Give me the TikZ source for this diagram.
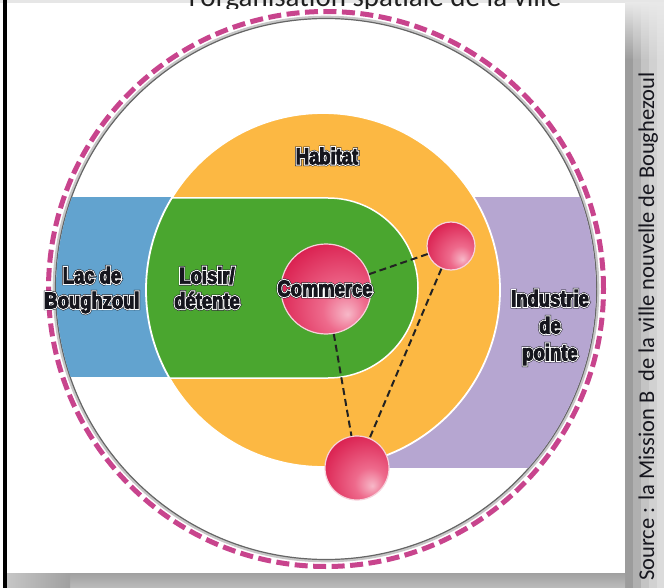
\documentclass[tikz,border=0pt]{standalone}
\usepackage{fontspec}
\newfontfamily\lblF[FakeStretch=0.8,FakeBold=4]{Liberation Sans Bold}
\newfontfamily\lblW[FakeStretch=0.8,FakeBold=12]{Liberation Sans Bold}
\newfontfamily\lblK[FakeStretch=0.8,FakeBold=16]{Liberation Sans Bold}
\newfontfamily\srcfont{Carlito}
\definecolor{txtdark}{HTML}{16161E}
\definecolor{lakeblue}{HTML}{62A3CF}
\definecolor{greenfill}{HTML}{4AA62F}
\definecolor{orangefill}{HTML}{FCB843}
\definecolor{purplefill}{HTML}{B6A6D1}
\definecolor{ringmag}{HTML}{C8448D}
\definecolor{ringgrey}{HTML}{666666}
\definecolor{linkdark}{HTML}{222222}
\definecolor{ballrim}{HTML}{F6D2DC}
\definecolor{ballhi}{HTML}{F7B8C8}
\definecolor{ballmid}{HTML}{EE6A8C}
\definecolor{ballbase}{HTML}{DA1F4F}
\definecolor{balledge}{HTML}{BE153F}
\definecolor{topgrey}{HTML}{E6E6E6}
\definecolor{coltop}{HTML}{E8E8E8}
\definecolor{bardark}{HTML}{A0A0A0}
\definecolor{barlight}{HTML}{BCBCBC}
\definecolor{barleft}{HTML}{C6C6C6}
\definecolor{titlecol}{HTML}{202020}
\pgfdeclareradialshading{pinkball}{\pgfpoint{12bp}{-14bp}}{color(0bp)=(ballhi); color(12bp)=(ballmid); color(36bp)=(ballbase); color(56bp)=(balledge); color(80bp)=(balledge)}
\newcommand\hl[1]{\leavevmode\rlap{\lblK\color{txtdark}#1}\rlap{\lblW\color{white}#1}{\lblF\color{txtdark}#1}}
\tikzset{
  lbl/.style={inner sep=0pt, font=\fontsize{23}{25}\selectfont},
  ball/.style={circle, inner sep=0pt, draw=ballrim, line width=1.2pt, shading=pinkball},
  link/.style={draw=linkdark, line width=2pt, dash pattern=on 7pt off 4pt},
}
\begin{document}
\begin{tikzpicture}[x=1pt,y=-1pt]
\clip (0,0) rectangle (664,588);
\fill[white] (0,0) rectangle (664,588);
% frame
\fill[topgrey] (0,0) rectangle (664,3);
\foreach \xa/\xb/\g in {625/633/61, 633/641/69, 641/649/77, 649/657/82, 657/664.5/86}{
  \shade[top color=coltop, bottom color=black!\the\numexpr100-\g\relax!white] (\xa,3) rectangle (\xb,60);
  \fill[black!\the\numexpr100-\g\relax!white] (\xa,59.5) rectangle (\xb,588);
}
\shade[top color=bardark, bottom color=barlight] (6.5,573) rectangle (625,588);
\shade[left color=barleft, right color=bardark] (6.5,573) rectangle (70,588);
\fill[black] (2.5,0) rectangle (6.5,588);
% title (cut off, as in the reference)
\begin{scope}
\clip (0,0) rectangle (664,9);
\node[anchor=base, inner sep=0pt, text=titlecol, font=\srcfont\fontsize{29}{31}\selectfont] (title) at (375,7) {l’organisation spatiale de la ville};
\end{scope}
% source
\node[rotate=90, anchor=base west, inner sep=0pt, text=txtdark, font=\srcfont\fontsize{22.5}{24}\selectfont] (source) at (654,581) {Source : la Mission B~~de la ville nouvelle de Boughezoul};
% outer ring
\draw[ringmag, line width=5pt, dash pattern=on 13pt off 5.5pt] (326,289) circle[radius=277.5pt];
\draw[black!22, line width=3pt] (326,289) circle[radius=271.8pt];
\draw[ringgrey, line width=1.2pt] (326,289) circle[radius=270.5pt];
% bands
\begin{scope}
\clip (326,289) circle[radius=270pt];
\fill[lakeblue] (40,197) rectangle (200,377);
\fill[purplefill] (360,197) rectangle (620,468);
\end{scope}
% habitat
\fill[orangefill] (323,290) circle[radius=177pt];
\begin{scope}
\clip (323,290) circle[radius=177pt];
\filldraw[fill=greenfill, draw=white, line width=1.5pt, rounded corners=90pt] (30,198) rectangle (418,378);
\end{scope}
\draw[white, line width=1.8pt] (323,290) circle[radius=177pt];
% balls
\node[ball, minimum size=90pt] (cball) at (326,289) {};
\node[ball, minimum size=48pt] (sball) at (451,246) {};
\node[ball, minimum size=64pt] (bball) at (357,468) {};
\draw[link] (cball) -- (sball);
\draw[link] (cball) -- (bball);
\draw[link] (sball) -- (bball);
% labels
\node[lbl] (habitat) at (327,156) {\hl{Habitat}};
\node[lbl, align=center] (lac) at (92,290) {\hl{Lac de}\\\hl{Boughzoul}};
\node[lbl, align=center] (loisir) at (207,288) {\hl{Loisir/}\\\hl{détente}};
\node[lbl] (commerce) at (325,288.5) {\hl{Commerce}};
\node[lbl, align=center, font=\fontsize{23}{27}\selectfont] (indus) at (550,327.5) {\hl{Industrie}\\\hl{de}\\\hl{pointe}};
\end{tikzpicture}
\end{document}
